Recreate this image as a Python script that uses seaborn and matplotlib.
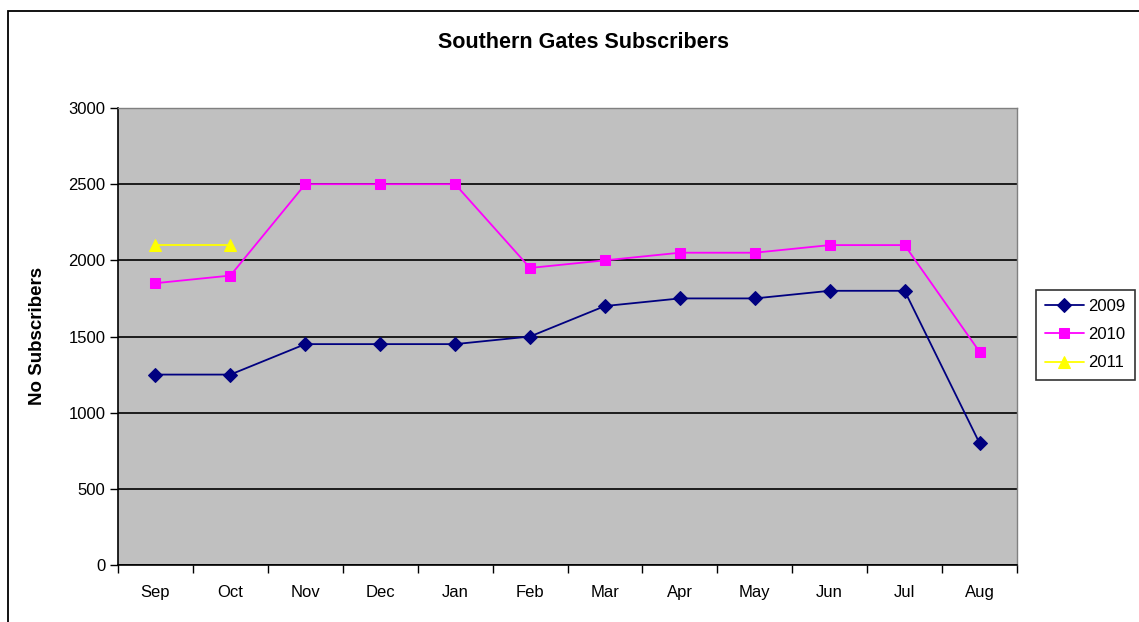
import matplotlib
matplotlib.use("Agg")
import matplotlib.pyplot as plt
import matplotlib.patches as mpatches
import seaborn as sns
import pandas as pd
import numpy as np

months = ["Sep", "Oct", "Nov", "Dec", "Jan", "Feb", "Mar", "Apr", "May", "Jun", "Jul", "Aug"]
s2009 = [1250, 1250, 1450, 1450, 1450, 1500, 1700, 1750, 1750, 1800, 1800, 800]
s2010 = [1850, 1900, 2500, 2500, 2500, 1950, 2000, 2050, 2050, 2100, 2100, 1400]
s2011 = [2100, 2100]
yticks = [0, 500, 1000, 1500, 2000, 2500, 3000]

sns.set_theme(style="white")
plt.rcParams['font.family'] = ['Liberation Sans', 'DejaVu Sans']
plt.rcParams.update({"text.color": "black", "axes.labelcolor": "black",
                     "xtick.color": "black", "ytick.color": "black"})

W, H = 1139, 622
fig = plt.figure(figsize=(W / 100, H / 100), dpi=100)
ax = fig.add_axes([118 / W, 1 - 565 / H, (1017 - 118) / W, (565 - 108) / H])
ax.set_facecolor("#C0C0C0")

series = [
    ("2009", s2009, "#000080", "D", 7.5),
    ("2010", s2010, "#FF00FF", "s", 7.5),
    ("2011", s2011, "#FFFF00", "^", 8.5),
]
for name, vals, col, mk, ms in series:
    df = pd.DataFrame({"x": np.arange(len(vals)), "y": vals})
    sns.lineplot(data=df, x="x", y="y", ax=ax, color=col, marker=mk,
                 markersize=ms, markeredgecolor=col, linewidth=1.3,
                 label=name, zorder=3)

ax.set_xlim(-0.5, len(months) - 0.5)
ax.set_ylim(0, 3000)
ax.set_yticks(yticks)
ax.set_yticklabels([str(v) for v in yticks], fontsize=12)
ax.yaxis.grid(True, color="black", linewidth=1.2)
ax.set_axisbelow(True)
ax.set_xticks(np.arange(-0.5, len(months), 1.0))
ax.set_xticklabels([])
ax.set_xticks(np.arange(len(months)), minor=True)
ax.set_xticklabels(months, minor=True, fontsize=12)
ax.tick_params(axis="x", which="major", direction="out", length=6, width=1, color="black", bottom=True)
ax.tick_params(axis="x", which="minor", length=0, pad=14.5)
ax.tick_params(axis="y", direction="out", length=6, width=1, color="black", left=True, pad=3)
ax.set_xlabel("")
ax.set_ylabel("")

for side in ["left", "bottom"]:
    ax.spines[side].set_color("black")
    ax.spines[side].set_linewidth(1.2)
for side in ["top", "right"]:
    ax.spines[side].set_color("#808080")
    ax.spines[side].set_linewidth(1.0)

fig.text(583 / W, 1 - 43 / H, "Southern Gates Subscribers", ha="center", va="center",
         fontsize=15.5, fontweight="bold", color="black")
fig.text(38 / W, 1 - 336 / H, "No Subscribers", ha="center", va="center",
         rotation=90, fontsize=13.5, fontweight="bold", color="black")

leg = ax.legend(loc="center left", bbox_to_anchor=(1036 / W, 1 - 334.5 / H),
                bbox_transform=fig.transFigure, frameon=True, fancybox=False,
                edgecolor="black", fontsize=12, handlelength=2.3,
                borderpad=0.55, labelspacing=0.8, handletextpad=0.3, borderaxespad=0)
leg.get_frame().set_linewidth(1.2)
for t in leg.get_texts():
    t.set_color("black")

frame = mpatches.Rectangle((8 / W, -0.1), 1.2, (H - 11) / H + 0.1,
                           transform=fig.transFigure, fill=False,
                           edgecolor="black", linewidth=1.3)
fig.patches.append(frame)

fig.savefig("out.png", dpi=100)
